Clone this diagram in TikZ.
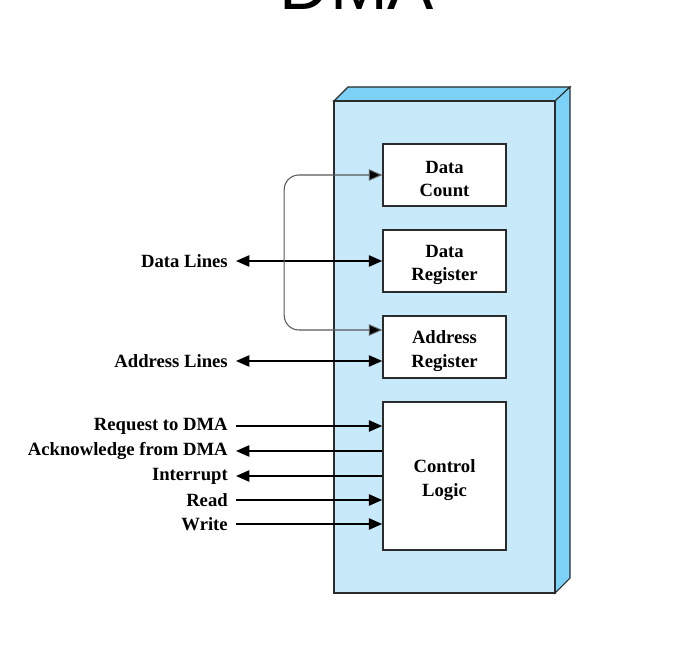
\documentclass[tikz,border=0pt]{standalone}
\usepackage{fontspec}
\setmainfont{Liberation Serif}
\newfontfamily\titlefont{Liberation Sans}
\usepackage{tikz}
\usetikzlibrary{arrows.meta, calc, positioning}
\definecolor{dmafront}{HTML}{C8E9FA}
\definecolor{dmaside}{HTML}{7CD2F6}
\definecolor{dmaedge}{HTML}{2B2B2B}
\tikzset{
  % DMA module
  dma-reg/.style={rectangle, draw=dmaedge, fill=white, line width=1.2pt, minimum width=92.25pt, minimum height=46.5pt},
  dma-text/.style={align=center, yshift=-3pt, font=\bfseries\fontsize{14}{17.5}\selectfont},
  dma-label/.style={anchor=east, inner sep=6pt, font=\bfseries\fontsize{14}{16}\selectfont},
  dma-tip/.style={Triangle[length=10pt, width=8.5pt]},
  dma-line/.style={line width=1.1pt, black, -{Triangle[length=10pt, width=8.5pt]}},
  dma-both/.style={line width=1.1pt, black, {Triangle[length=10pt, width=8.5pt]}-{Triangle[length=10pt, width=8.5pt]}},
  dma-loop/.style={line width=0.8pt, black!65, rounded corners=11pt, {Triangle[length=10pt, width=8.5pt, fill=black]}-{Triangle[length=10pt, width=8.5pt, fill=black]}}
}

\begin{document}
\begin{tikzpicture}[x=0.75pt, y=-0.75pt]
    \useasboundingbox (0,0) rectangle (700,670);
    % --- Title (cut by the page) ---
    \node[anchor=base, inner sep=0pt, font=\titlefont\fontsize{52}{52}\selectfont] (title) at (357,10) {DMA};

    % --- Module body ---
    \fill[dmaside, draw=dmaedge, line width=0.8pt] (334,101) -- (348,87) -- (570,87) -- (555,101) -- cycle;
    \fill[dmaside, draw=dmaedge, line width=0.8pt] (555,101) -- (570,87) -- (570,578) -- (555,593) -- cycle;
    \draw[fill=dmafront, draw=dmaedge, line width=1.2pt] (334,101) rectangle (555,593);

    % --- Registers ---
    \node[dma-reg, label={[dma-text]center:{Data\\Count}}] (dcount) at (444.5,175) {};
    \node[dma-reg, label={[dma-text]center:{Data\\Register}}] (dreg) at (444.5,261) {};
    \node[dma-reg, label={[dma-text]center:{Address\\Register}}] (areg) at (444.5,347) {};
    \node[dma-reg, minimum height=111pt, label={[dma-text]center:{Control\\Logic}}] (ctrl) at (444.5,476) {};

    % --- Bus lines ---
    \node[dma-label] (datalines) at (236,261) {Data Lines};
    \node[dma-label] (addrlines) at (236,361) {Address Lines};
    \draw[dma-both] (datalines.east) -- (dreg.west);
    \draw[dma-both] (addrlines.east) -- (addrlines.east -| areg.west);

    % internal path from data count to address register
    \coordinate (areg-in) at ($(areg.west)+(0,-17)$);
    \draw[dma-loop] (dcount.west) -- ++(-98,0) |- (areg-in);

    % --- Control signals ---
    \node[dma-label] (req) at (236,426) {Request to DMA};
    \node[dma-label] (ack) at (236,451) {Acknowledge from DMA};
    \node[dma-label] (intr) at (236,476) {Interrupt};
    \node[dma-label] (rd) at (236,500) {Read};
    \node[dma-label] (wr) at (236,524) {Write};
    \draw[dma-line] (req.east) -- (req.east -| ctrl.west);
    \draw[dma-line] (ack.east -| ctrl.west) -- (ack.east);
    \draw[dma-line] (intr.east -| ctrl.west) -- (intr.east);
    \draw[dma-line] (rd.east) -- (rd.east -| ctrl.west);
    \draw[dma-line] (wr.east) -- (wr.east -| ctrl.west);
\end{tikzpicture}
\end{document}
